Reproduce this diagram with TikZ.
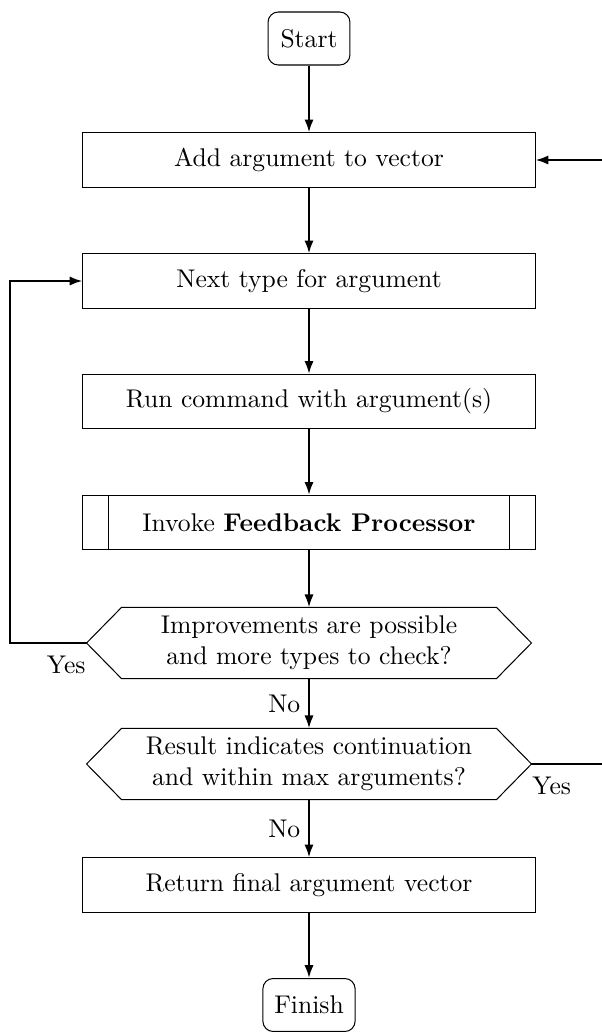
\documentclass[tikz,border=0pt]{standalone}
\usetikzlibrary{arrows.meta}
\begin{document}
\begin{tikzpicture}[x=0.390625pt,y=-0.390625pt,
  box/.style={draw, line width=0.4pt, minimum width=176.6pt, minimum height=21.2pt, inner sep=0pt},
  term/.style={draw, rounded corners=4pt, minimum height=20.7pt, inner sep=0pt},
  hexa/.style={minimum width=146pt, minimum height=27.5pt, inner sep=0pt, align=center},
  flow/.style={thick, -{Latex[length=5pt,width=3.6pt]}},
  lbl/.style={inner sep=0pt}]
\useasboundingbox (0,0) rectangle (601,1032);
\node[term, minimum width=32pt] (start) at (309,38.5) {Start};
\node[box] (add) at (309,160) {Add argument to vector};
\node[box] (next) at (309,281) {Next type for argument};
\node[box] (run) at (309,401.5) {Run command with argument(s)};
\node[box] (inv) at (309,522.5) {Invoke \textbf{Feedback Processor}};
\draw ([xshift=10.2pt]inv.north west) -- ([xshift=10.2pt]inv.south west);
\draw ([xshift=-10.2pt]inv.north east) -- ([xshift=-10.2pt]inv.south east);
\node[hexa] (h1) at (309,643) {Improvements are possible\\and more types to check?};
\draw (h1.north west) -- (h1.north east) -- ([xshift=13.7pt]h1.east) coordinate (h1r)
  -- (h1.south east) -- (h1.south west) -- ([xshift=-13.7pt]h1.west) coordinate (h1l) -- cycle;
\node[hexa] (h2) at (309,764) {Result indicates continuation\\and within max arguments?};
\draw (h2.north west) -- (h2.north east) -- ([xshift=13.7pt]h2.east) coordinate (h2r)
  -- (h2.south east) -- (h2.south west) -- ([xshift=-13.7pt]h2.west) coordinate (h2l) -- cycle;
\node[box] (ret) at (309,885) {Return final argument vector};
\node[term, minimum width=36pt] (fin) at (309,1005) {Finish};
\coordinate (lft) at (10,0);
\coordinate (rgt) at (606,0);
\draw[flow] (start) -- (add);
\draw[flow] (add) -- (next);
\draw[flow] (next) -- (run);
\draw[flow] (run) -- (inv);
\draw[flow] (inv) -- (h1);
\draw[flow] (h1) -- node[left, inner sep=3pt] {No} (h2);
\draw[flow] (h2) -- node[left, inner sep=3pt] {No} (ret);
\draw[flow] (ret) -- (fin);
\draw[flow] (h1l) -- node[pos=0, anchor=north east, lbl, yshift=-4.5pt] {Yes} (h1l -| lft) |- (next.west);
\draw[flow] (h2r) -- node[pos=0, anchor=north west, lbl, yshift=-4.5pt] {Yes} (h2r -| rgt) |- (add.east);
\end{tikzpicture}
\end{document}
